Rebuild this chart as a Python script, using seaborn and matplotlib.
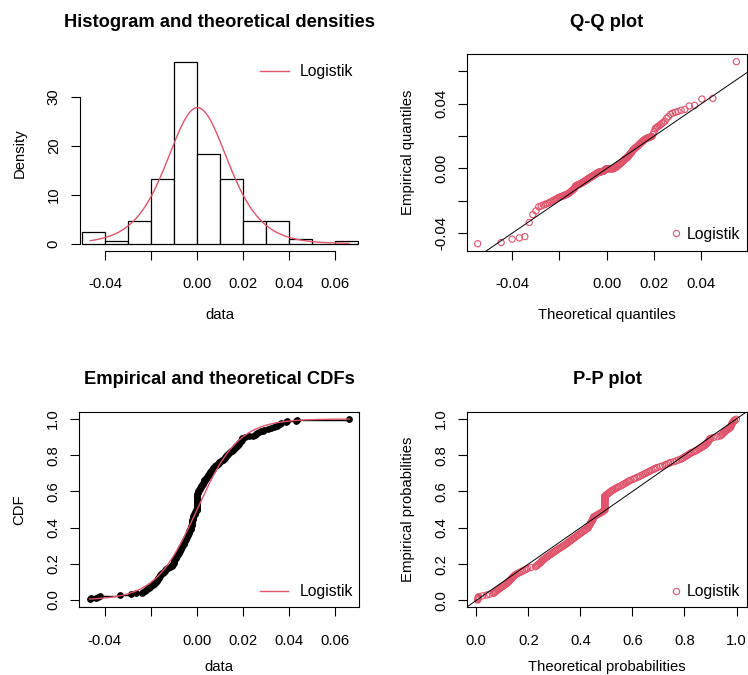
import numpy as np
import pandas as pd
import matplotlib
matplotlib.use("Agg")
import matplotlib.pyplot as plt
from matplotlib.lines import Line2D
import seaborn as sns

# ---------------- data (sorted sample, read from the ECDF / Q-Q / P-P panels) -------------
returns_below_m002 = [-0.0465, -0.0458, -0.0437, -0.0429, -0.0421, -0.0334,
                      -0.0285, -0.0262, -0.0237, -0.0232, -0.0226, -0.0221,
                      -0.0216, -0.0211, -0.0206, -0.0202]
returns_m002_m001 = [-0.0197, -0.0192, -0.0188, -0.0184, -0.0180, -0.0177,
                     -0.0174, -0.0172, -0.0170, -0.0167, -0.0165, -0.0163,
                     -0.0160, -0.0158, -0.0156, -0.0152, -0.0148, -0.0144,
                     -0.0140, -0.0136, -0.0132, -0.0128, -0.0125, -0.0118,
                     -0.0109, -0.0107, -0.0105, -0.0103, -0.0101]
returns_m001_0 = [-0.0099, -0.0098, -0.0097, -0.0095, -0.0093, -0.0091, -0.0089,
                  -0.0087, -0.0085, -0.0083, -0.0081, -0.0079, -0.0077, -0.0075,
                  -0.0073, -0.0071, -0.0069, -0.0067, -0.0065, -0.0063, -0.0061,
                  -0.0059, -0.0057, -0.0055, -0.0054, -0.0052, -0.0050, -0.0049,
                  -0.0047, -0.0045, -0.0044, -0.0042, -0.0040, -0.0039, -0.0037,
                  -0.0035, -0.0034, -0.0032, -0.0030, -0.0029, -0.0027, -0.0025,
                  -0.0024, -0.0024, -0.0023, -0.0022, -0.0022, -0.0021, -0.0020,
                  -0.0020, -0.0019, -0.0018, -0.0018, -0.0017, -0.0017, -0.0016,
                  -0.0014, -0.0012, -0.0010, -0.0008, -0.0006, -0.0004, -0.0003]
returns_flat = [-0.0001, -0.0001, -0.0001, -0.0001, -0.0001, -0.0001,
                -0.0001, -0.0001, -0.0001, -0.0001, -0.0001, -0.0001,
                -0.0001, -0.0001, -0.0001, -0.0001, -0.0001, -0.0001]
returns_0_001 = [0.0001, 0.0002, 0.0004, 0.0005, 0.0007, 0.0008, 0.0010, 0.0012,
                 0.0014, 0.0016, 0.0018, 0.0021, 0.0023, 0.0025, 0.0027, 0.0029,
                 0.0031, 0.0033, 0.0035, 0.0039, 0.0041, 0.0044, 0.0047, 0.0049,
                 0.0052, 0.0054, 0.0057, 0.0059, 0.0062, 0.0064, 0.0067, 0.0070,
                 0.0072, 0.0075, 0.0080, 0.0084, 0.0088, 0.0091, 0.0095, 0.0098]
returns_001_002 = [0.0104, 0.0109, 0.0113, 0.0118, 0.0121, 0.0124, 0.0127, 0.0130,
                   0.0133, 0.0136, 0.0139, 0.0142, 0.0148, 0.0152, 0.0156, 0.0160,
                   0.0164, 0.0168, 0.0172, 0.0176, 0.0180, 0.0183, 0.0185, 0.0188,
                   0.0190, 0.0192, 0.0194, 0.0196, 0.0198]
returns_above_002 = [0.0210, 0.0228, 0.0245, 0.0252, 0.0258, 0.0263, 0.0270, 0.0277,
                     0.0285, 0.0292, 0.0310, 0.0320, 0.0335, 0.0342, 0.0347, 0.0352,
                     0.0360, 0.0365, 0.0386, 0.0390, 0.0429, 0.0433, 0.0660]

# fitted logistic distribution
fit_location = 0.0001
fit_scale = 0.009
dist_label = "Logistik"

hist_breaks = [-0.05, -0.04, -0.03, -0.02, -0.01, 0.0, 0.01, 0.02, 0.03, 0.04, 0.05, 0.06, 0.07]
data_ticks = [-0.04, -0.02, 0.0, 0.02, 0.04, 0.06]
data_ticklabels = ["-0.04", "", "0.00", "0.02", "0.04", "0.06"]
qq_xticks = [-0.04, -0.02, 0.0, 0.02, 0.04]
qq_xticklabels = ["-0.04", "", "0.00", "0.02", "0.04"]
qq_yticks = [-0.04, -0.02, 0.0, 0.02, 0.04, 0.06]
qq_yticklabels = ["-0.04", "", "0.00", "", "0.04", ""]
dens_ticks = [0, 10, 20, 30]
prob_ticks = [0.0, 0.2, 0.4, 0.6, 0.8, 1.0]
prob_ticklabels = ["0.0", "0.2", "0.4", "0.6", "0.8", "1.0"]

titles = ["Histogram and theoretical densities", "Q-Q plot",
          "Empirical and theoretical CDFs", "P-P plot"]

# ---------------- helpers -------------
data = np.sort(np.concatenate([returns_below_m002, returns_m002_m001, returns_m001_0,
                               returns_flat, returns_0_001, returns_001_002,
                               returns_above_002]))
n = len(data)
ppts = (np.arange(1, n + 1) - 0.5) / n


def logis_pdf(x):
    z = (np.asarray(x) - fit_location) / fit_scale
    e = np.exp(-z)
    return e / (fit_scale * (1 + e) ** 2)


def logis_cdf(x):
    return 1.0 / (1.0 + np.exp(-(np.asarray(x) - fit_location) / fit_scale))


def logis_q(p):
    return fit_location + fit_scale * np.log(p / (1 - p))


def r_lim(v):
    lo, hi = float(np.min(v)), float(np.max(v))
    r = hi - lo
    return lo - 0.04 * r, hi + 0.04 * r


RED = "#DF536B"
FS = 10.7
LFS = 11.3
plt.rcParams.update({
    "font.family": ["Liberation Sans", "DejaVu Sans"],
    "font.size": FS,
    "axes.linewidth": 0.8,
    "xtick.major.size": 6.5,
    "ytick.major.size": 6.5,
    "xtick.major.width": 0.8,
    "ytick.major.width": 0.8,
    "xtick.major.pad": 12.5,
    "ytick.major.pad": 7.3,
    "xtick.labelsize": FS,
    "ytick.labelsize": FS,
    "axes.labelsize": FS,
})

W, H = 748, 675
fig = plt.figure(figsize=(W / 100, H / 100), dpi=100)
fig.patch.set_facecolor("white")


def add_ax(l, r, t, b):
    return fig.add_axes([l / W, 1 - b / H, (r - l) / W, (b - t) / H])


ax1 = add_ax(80, 359.3, 54.4, 251)
ax2 = add_ax(467.3, 746.7, 54.4, 251)
ax3 = add_ax(79.3, 359.3, 411.7, 607.3)
ax4 = add_ax(467.3, 746.7, 412.0, 607.3)

xs = np.linspace(data.min(), data.max(), 400)
line_handle = [Line2D([], [], color=RED, lw=1)]
pt_handle = [Line2D([], [], color=RED, marker="o", ls="", mfc="none", mec=RED, ms=4.5, mew=0.8)]


def style_yticks(ax):
    for lbl in ax.get_yticklabels():
        lbl.set_rotation(90)
        lbl.set_va("center")


def title(ax, t):
    ax.set_title(t, fontsize=13.2, fontweight="bold", pad=20)


def line_legend(ax, loc, anchor):
    ax.legend(line_handle, [dist_label], loc=loc, bbox_to_anchor=anchor, frameon=False,
              borderpad=0, borderaxespad=0, handlelength=1.8, handletextpad=0.7,
              fontsize=LFS)


def point_legend(ax, anchor):
    ax.legend(pt_handle, [dist_label], loc="lower right", bbox_to_anchor=anchor,
              frameon=False, borderpad=0, borderaxespad=0, handlelength=0.8,
              handletextpad=0.3, fontsize=LFS)


# ---- 1. histogram + density ----
dens, _ = np.histogram(data, bins=hist_breaks, density=True)
sns.histplot(x=data, bins=hist_breaks, stat="density", color="white", edgecolor="black",
             linewidth=0.9, alpha=1, ax=ax1)
sns.lineplot(x=xs, y=logis_pdf(xs), color=RED, lw=1, ax=ax1)
ax1.set_xlim(r_lim(data))
ax1.set_ylim(r_lim([0, max(dens.max(), logis_pdf(xs).max())]))
for s in ["top", "right"]:
    ax1.spines[s].set_visible(False)
ax1.spines["left"].set_bounds(0, 30)
ax1.spines["bottom"].set_bounds(-0.04, 0.06)
ax1.set_xticks(data_ticks, data_ticklabels)
ax1.set_yticks(dens_ticks, [str(v) for v in dens_ticks])
ax1.set_xlabel("data", labelpad=12)
ax1.set_ylabel("Density", labelpad=14.5)
style_yticks(ax1)
title(ax1, titles[0])
line_legend(ax1, "upper right", (0.977, 0.951))

# ---- 2. Q-Q plot ----
tq = logis_q(ppts)
sns.scatterplot(x=tq, y=data, facecolor="none", edgecolor=RED, s=20, linewidth=0.8,
                ax=ax2, legend=False)
ax2.axline((0, 0), slope=1, color="black", lw=0.7)
ax2.set_xlim(r_lim(tq))
ax2.set_ylim(r_lim(data))
ax2.set_xticks(qq_xticks, qq_xticklabels)
ax2.set_yticks(qq_yticks, qq_yticklabels)
ax2.set_xlabel("Theoretical quantiles", labelpad=12)
ax2.set_ylabel("Empirical quantiles", labelpad=13.5)
style_yticks(ax2)
title(ax2, titles[1])
point_legend(ax2, (0.976, 0.047))

# ---- 3. CDF ----
sns.ecdfplot(x=data, color="black", lw=1, ax=ax3)
sns.scatterplot(x=data, y=np.arange(1, n + 1) / n, color="black", s=24, linewidth=0,
                ax=ax3, legend=False)
sns.lineplot(x=xs, y=logis_cdf(xs), color=RED, lw=1, ax=ax3)
ax3.set_xlim(r_lim(data))
ax3.set_ylim(r_lim([0, 1]))
ax3.set_xticks(data_ticks, data_ticklabels)
ax3.set_yticks(prob_ticks, prob_ticklabels)
ax3.set_xlabel("data", labelpad=9)
ax3.set_ylabel("CDF", labelpad=14.5)
style_yticks(ax3)
title(ax3, titles[2])
line_legend(ax3, "lower right", (0.977, 0.042))

# ---- 4. P-P plot ----
tp = logis_cdf(data)
sns.scatterplot(x=tp, y=ppts, facecolor="none", edgecolor=RED, s=20, linewidth=0.8,
                ax=ax4, legend=False)
ax4.axline((0, 0), slope=1, color="black", lw=0.7)
ax4.set_xlim(r_lim(tp))
ax4.set_ylim(r_lim(ppts))
ax4.set_xticks(prob_ticks, prob_ticklabels)
ax4.set_yticks(prob_ticks, prob_ticklabels)
ax4.set_xlabel("Theoretical probabilities", labelpad=9)
ax4.set_ylabel("Empirical probabilities", labelpad=13.5)
style_yticks(ax4)
title(ax4, titles[3])
point_legend(ax4, (0.976, 0.042))

fig.savefig("out.png", dpi=100, facecolor="white")
